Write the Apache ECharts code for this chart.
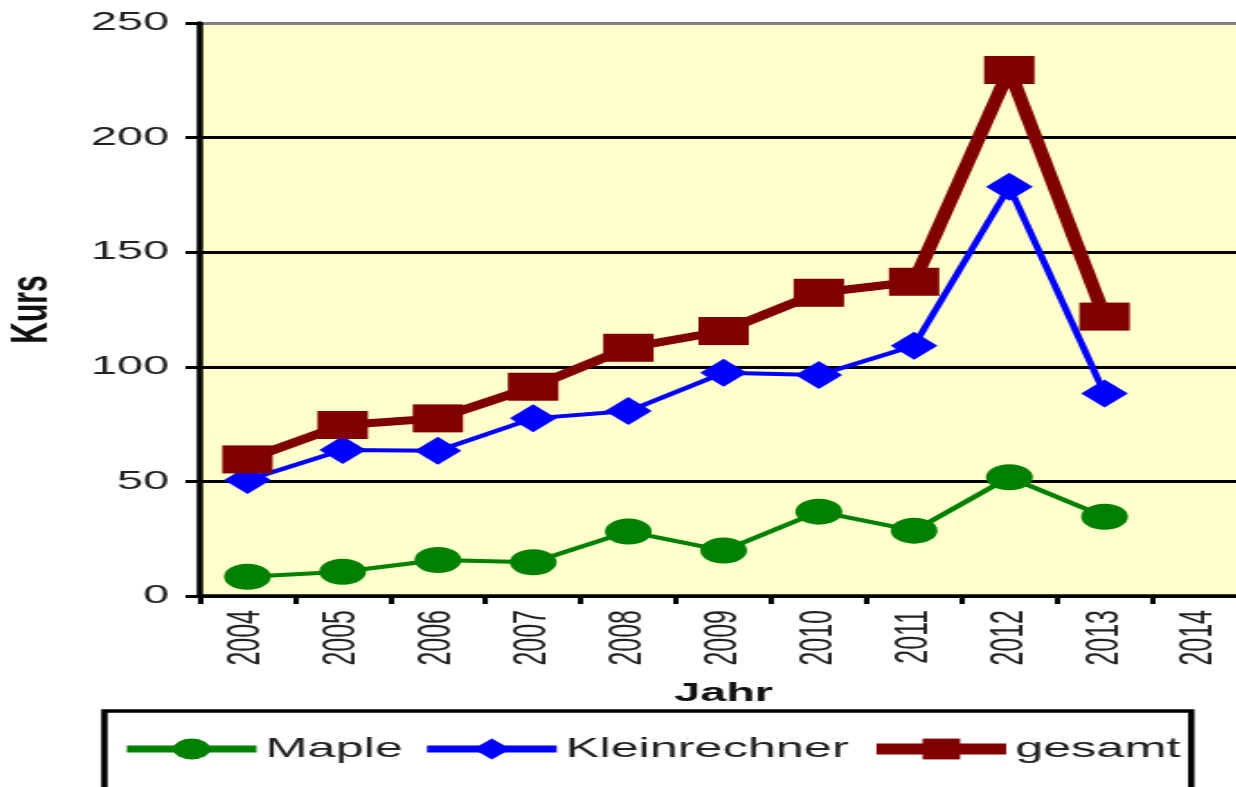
<!DOCTYPE html>
<html><head><meta charset="utf-8">
<script src="https://cdn.jsdelivr.net/npm/echarts@6/dist/echarts.min.js"></script>
<style>
html,body{margin:0;padding:0;width:1236px;height:787px;overflow:hidden;background:#fff}
#wrap{width:1236px;height:787px;overflow:hidden;position:relative}
#chart{width:700px;height:787px;transform:scaleX(1.8);transform-origin:0 0}
</style></head>
<body><div id="wrap"><div id="chart"></div></div>
<script>
const years = ['2004','2005','2006','2007','2008','2009','2010','2011','2012','2013','2014'];
const maple = [8.4, 10.6, 15.7, 14.7, 28.1, 19.8, 36.8, 28.5, 51.8, 34.6, null];
const kleinrechner = [50.6, 63.7, 63.4, 77.5, 80.7, 97.4, 96.4, 109.2, 178.6, 88.4, null];
const gesamt = [59.6, 74.6, 77.5, 91.3, 108.3, 115.6, 132.3, 137.1, 229.5, 121.9, null];
const yTicks = {min: 0, max: 250, interval: 50};
const seriesNames = ['Maple', 'Kleinrechner', 'gesamt'];

const FONT = 'Liberation Sans';
const chart = echarts.init(document.getElementById('chart'), null, {renderer: 'canvas'});
chart.setOption({
  animation: false,
  backgroundColor: '#ffffff',
  grid: {left: 111, right: 7, top: 23, bottom: 191, containLabel: false, outerBoundsMode: 'none',
         show: true, backgroundColor: '#FFFFCC', borderColor: '#808080', borderWidth: 1},
  xAxis: {
    type: 'category', data: years, boundaryGap: true,
    name: 'Jahr', nameLocation: 'middle', nameGap: 85,
    nameTextStyle: {fontFamily: FONT, fontSize: 26, fontWeight: 'bold', color: '#111'},
    axisLine: {lineStyle: {color: '#000', width: 3.5}},
    axisTick: {show: true, length: 8, lineStyle: {color: '#000', width: 3}, alignWithLabel: false},
    axisLabel: {rotate: 90, margin: 14, interval: 0, fontFamily: FONT, fontSize: 25, color: '#222'},
    splitLine: {show: false}
  },
  yAxis: {
    type: 'value', min: yTicks.min, max: yTicks.max, interval: yTicks.interval,
    name: 'Kurs', nameLocation: 'middle', nameGap: 78,
    nameTextStyle: {fontFamily: FONT, fontSize: 30, fontWeight: 'bold', color: '#111'},
    axisLine: {show: true, lineStyle: {color: '#000', width: 3.5}},
    axisTick: {show: true, inside: false, length: 8, lineStyle: {color: '#000', width: 3}},
    axisLabel: {margin: 17, fontFamily: FONT, fontSize: 26, color: '#222'},
    splitLine: {show: true, lineStyle: {color: ['#000','#000','#000','#000','#000','#808080'], width: 3}}
  },
  legend: {
    left: 58, top: 711, orient: 'horizontal',
    padding: [24, 6, 40, 9],
    itemWidth: 72, itemHeight: 26, itemGap: 10,
    borderColor: '#000', borderWidth: 3.5,
    textStyle: {fontFamily: FONT, fontSize: 28, color: '#222'},
    data: [
      {name: seriesNames[0], lineStyle: {width: 7}},
      {name: seriesNames[1], lineStyle: {width: 7}},
      {name: seriesNames[2], lineStyle: {width: 11}}
    ]
  },
  series: [
    {name: seriesNames[0], type: 'line', data: maple, symbol: 'circle', symbolSize: 26,
     lineStyle: {color: '#008000', width: 4}, itemStyle: {color: '#008000'}},
    {name: seriesNames[1], type: 'line', data: kleinrechner, symbol: 'diamond', symbolSize: [26, 28],
     lineStyle: {color: '#0000FF', width: 4}, itemStyle: {color: '#0000FF'}},
    {name: seriesNames[2], type: 'line', data: gesamt, symbol: 'rect', symbolSize: 28,
     lineStyle: {color: '#800000', width: 8}, itemStyle: {color: '#800000'}}
  ]
});
</script>
</body></html>
